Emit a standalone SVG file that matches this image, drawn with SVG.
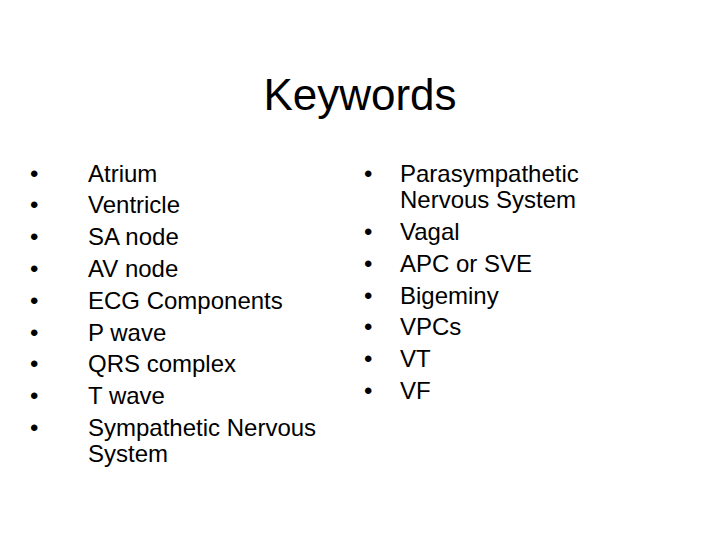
<svg xmlns="http://www.w3.org/2000/svg" width="720" height="540" viewBox="0 0 720 540">
<style>
text{font-family:"Liberation Sans",Arial,sans-serif;fill:#000}
.t{font-size:44px}
.b{font-size:24px}
</style>
<rect width="720" height="540" fill="#fff"/>
<text class="t" x="360" y="110" text-anchor="middle">Keywords</text>
<g id="left" class="b">
<text x="30" y="182">•</text><text x="88" y="182">Atrium</text>
<text x="30" y="213">•</text><text x="88" y="213">Ventricle</text>
<text x="30" y="245">•</text><text x="88" y="245">SA node</text>
<text x="30" y="277">•</text><text x="88" y="277">AV node</text>
<text x="30" y="309">•</text><text x="88" y="309">ECG Components</text>
<text x="30" y="341">•</text><text x="88" y="341">P wave</text>
<text x="30" y="372">•</text><text x="88" y="372">QRS complex</text>
<text x="30" y="404">•</text><text x="88" y="404">T wave</text>
<text x="30" y="436">•</text><text x="88" y="436">Sympathetic Nervous</text>
<text x="88" y="462">System</text>
</g>
<g id="right" class="b">
<text x="364" y="182">•</text><text x="400" y="182">Parasympathetic</text>
<text x="400" y="208">Nervous System</text>
<text x="364" y="240">•</text><text x="400" y="240">Vagal</text>
<text x="364" y="272">•</text><text x="400" y="272">APC or SVE</text>
<text x="364" y="304">•</text><text x="400" y="304">Bigeminy</text>
<text x="364" y="335">•</text><text x="400" y="335">VPCs</text>
<text x="364" y="367">•</text><text x="400" y="367">VT</text>
<text x="364" y="399">•</text><text x="400" y="399">VF</text>
</g>
</svg>
